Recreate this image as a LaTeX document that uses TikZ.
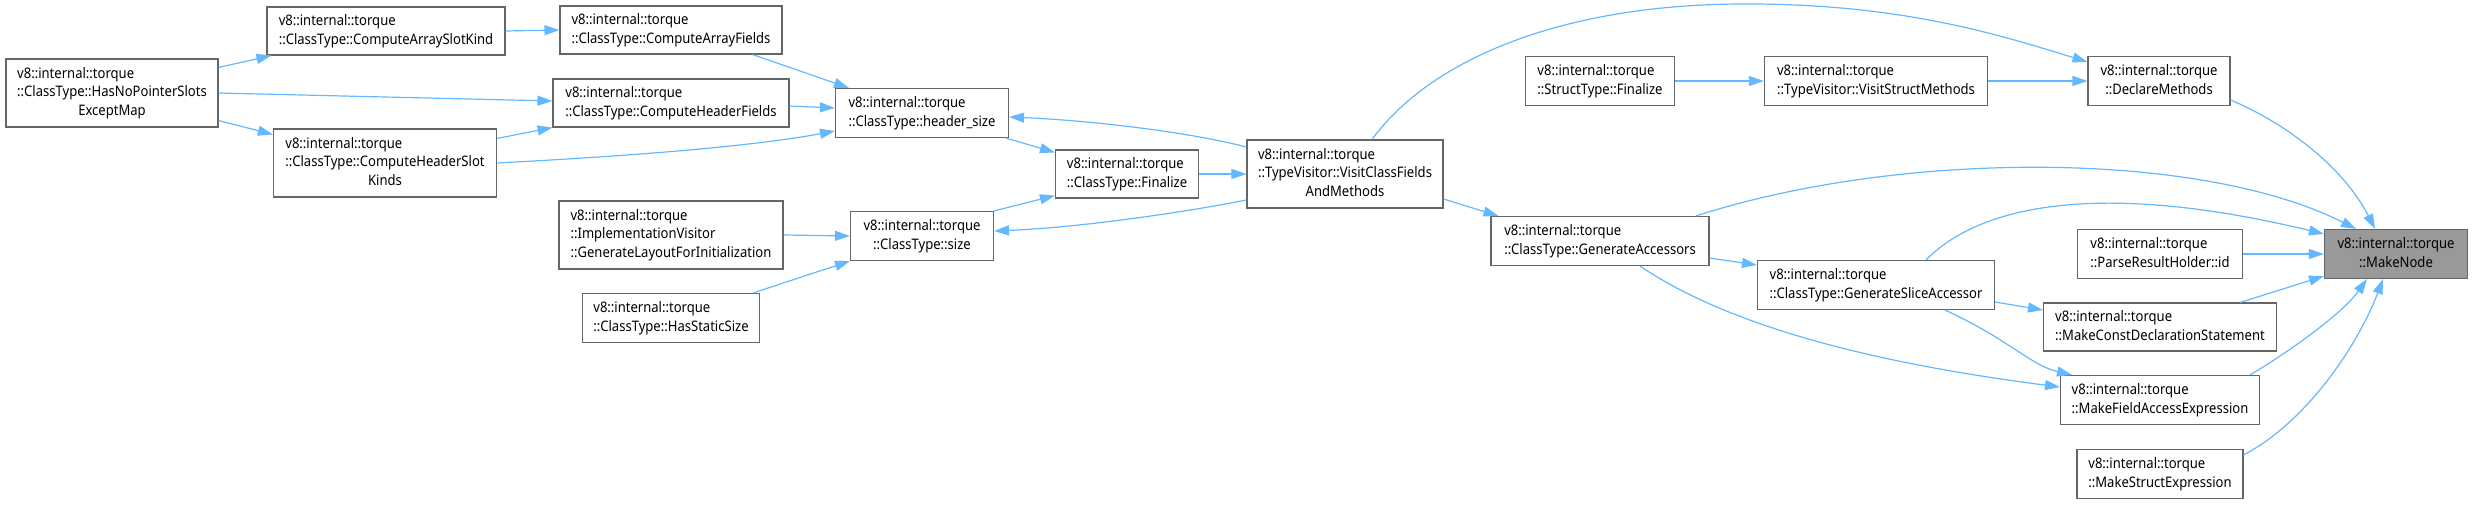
\documentclass[tikz,border=0pt]{standalone}
\usepackage{fontspec}
\setmainfont{Noto Sans}[FakeStretch=0.9]
\usetikzlibrary{arrows.meta}
\definecolor{edgeblue}{HTML}{63B8FF}
\definecolor{boxgray}{HTML}{666666}
\definecolor{fillgray}{HTML}{999999}
\newcommand\linestwo[2]{\begin{tabular}{@{}l@{}}#1\\\multicolumn{1}{@{}c@{}}{#2}\end{tabular}}
\newcommand\linesthree[3]{\begin{tabular}{@{}l@{}}#1\\#2\\\multicolumn{1}{@{}c@{}}{#3}\end{tabular}}
\begin{document}
\begin{tikzpicture}[x=1pt,y=-1pt,
  fn/.style={draw=boxgray, line width=1.1pt, fill=white, inner sep=0pt,
    font=\fontsize{14.5}{18.7}\selectfont, anchor=center},
  hl/.style={fn, fill=fillgray},
  edge/.style={draw=edgeblue, line width=1.2pt, -{Triangle[length=15pt,width=10pt]}}]
\useasboundingbox (0,0) rectangle (2472,504);
% nodes
\node[fn, minimum width=212pt, minimum height=68pt] (A) at (112,93) {\linesthree{v8::internal::torque}{::ClassType::HasNoPointerSlots}{ExceptMap}};
\node[fn, minimum width=238pt, minimum height=48pt] (B) at (386,31) {\linestwo{v8::internal::torque}{::ClassType::ComputeArraySlotKind}};
\node[fn, minimum width=223pt, minimum height=68pt] (C) at (385,163) {\linesthree{v8::internal::torque}{::ClassType::ComputeHeaderSlot}{Kinds}};
\node[fn, minimum width=222pt, minimum height=48pt] (D) at (671,30) {\linestwo{v8::internal::torque}{::ClassType::ComputeArrayFields}};
\node[fn, minimum width=236pt, minimum height=48pt] (E) at (671,103) {\linestwo{v8::internal::torque}{::ClassType::ComputeHeaderFields}};
\node[fn, minimum width=224pt, minimum height=68pt] (F) at (671,235) {\linesthree{v8::internal::torque}{::ImplementationVisitor}{::GenerateLayoutForInitialization}};
\node[fn, minimum width=177pt, minimum height=49pt] (G) at (671,318) {\linestwo{v8::internal::torque}{::ClassType::HasStaticSize}};
\node[fn, minimum width=173pt, minimum height=49pt] (H) at (922,113) {\linestwo{v8::internal::torque}{::ClassType::header\_size}};
\node[fn, minimum width=143pt, minimum height=49pt] (I) at (922,236) {\linestwo{v8::internal::torque}{::ClassType::size}};
\node[fn, minimum width=143pt, minimum height=48pt] (J) at (1127,174) {\linestwo{v8::internal::torque}{::ClassType::Finalize}};
\node[fn, minimum width=196pt, minimum height=68pt] (K) at (1345,174) {\linesthree{v8::internal::torque}{::TypeVisitor::VisitClassFields}{AndMethods}};
\node[fn, minimum width=149pt, minimum height=49pt] (L) at (1600,81) {\linestwo{v8::internal::torque}{::StructType::Finalize}};
\node[fn, minimum width=223pt, minimum height=49pt] (M) at (1876,81) {\linestwo{v8::internal::torque}{::TypeVisitor::VisitStructMethods}};
\node[fn, minimum width=142pt, minimum height=49pt] (N) at (2159,81) {\linestwo{v8::internal::torque}{::DeclareMethods}};
\node[hl, minimum width=143pt, minimum height=49pt] (O) at (2396,254) {\linestwo{v8::internal::torque}{::MakeNode}};
\node[fn, minimum width=165pt, minimum height=49pt] (P) at (2160,254) {\linestwo{v8::internal::torque}{::ParseResultHolder::id}};
\node[fn, minimum width=218pt, minimum height=49pt] (Q) at (1600,241) {\linestwo{v8::internal::torque}{::ClassType::GenerateAccessors}};
\node[fn, minimum width=237pt, minimum height=49pt] (R) at (1876,285) {\linestwo{v8::internal::torque}{::ClassType::GenerateSliceAccessor}};
\node[fn, minimum width=233pt, minimum height=48pt] (S) at (2160,327) {\linestwo{v8::internal::torque}{::MakeConstDeclarationStatement}};
\node[fn, minimum width=199pt, minimum height=49pt] (T) at (2160,400) {\linestwo{v8::internal::torque}{::MakeFieldAccessExpression}};
\node[fn, minimum width=166pt, minimum height=49pt] (U) at (2160,474) {\linestwo{v8::internal::torque}{::MakeStructExpression}};
% edges
\draw[edge] ([yshift=-9pt]A.north east) -- ([xshift=5pt]B.south west);
\draw[edge] (A.east) -- ([yshift=2pt]E.west);
\draw[edge] ([yshift=7pt]A.south east) -- ([yshift=-6pt]C.north west);
\draw[edge] (B.east) -- (D.west);
\draw[edge] ([yshift=-10pt]C.north east) -- (E.south west);
\draw[edge] (C.east) .. controls (650,155) and (760,145) .. ([yshift=-18pt]H.west);
\draw[edge] ([xshift=-30pt]D.south east) -- ([xshift=14pt]H.north west);
\draw[edge] ([yshift=-3pt]E.east) -- ([yshift=5pt]H.west);
\draw[edge] (F.east) -- (I.west);
\draw[edge] ([xshift=-7pt]G.north east) -- (I.south west);
\draw[edge] ([xshift=-3pt]H.south east) -- ([yshift=-3pt]J.north west);
\draw[edge] (I.north east) -- ([yshift=3pt]J.south west);
\draw[edge] (J.east) -- (K.west);
\draw[edge] ([yshift=27pt]K.west) .. controls (1180,130) and (1080,120) .. ([yshift=-4pt]H.east);
\draw[edge] ([yshift=-26pt]K.west) .. controls (1170,215) and (1070,228) .. ([yshift=5pt]I.east);
\draw[edge] ([yshift=-25pt]K.east) -- ([xshift=8pt]Q.north west);
\draw[edge] ([xshift=27pt]K.north) .. controls (1430,60) and (1560,5) .. (1740,4) .. controls (1900,3) and (2000,35) .. ([yshift=-6pt]N.north west);
\draw[edge] (L.east) -- (M.west);
\draw[edge] (M.east) -- (N.west);
\draw[edge] ([yshift=-19pt]N.east) .. controls (2290,125) and (2345,170) .. ([xshift=-21pt]O.north);
\draw[edge] ([xshift=96pt]Q.north) .. controls (1900,150) and (2200,150) .. ([xshift=-40pt]O.north);
\draw[edge] ([xshift=50pt]R.north) .. controls (1980,205) and (2100,180) .. ([yshift=-5pt]O.north west);
\draw[edge] (P.east) -- (O.west);
\draw[edge] ([xshift=80pt]S.north) -- ([yshift=3pt]O.south west);
\draw[edge] ([xshift=90pt]T.north) .. controls (2300,345) and (2345,310) .. ([xshift=-29pt]O.south);
\draw[edge] ([yshift=-6pt]U.north east) .. controls (2310,420) and (2360,340) .. ([xshift=-13pt]O.south);
\draw[edge] ([yshift=-17pt]Q.east) -- ([yshift=20pt]R.west);
\draw[edge] ([xshift=40pt]Q.south) .. controls (1720,320) and (1850,360) .. ([yshift=13pt]T.west);
\draw[edge] ([yshift=-17pt]R.east) -- ([yshift=17pt]S.west);
\draw[edge] ([xshift=69pt]R.south) .. controls (2010,340) and (2030,365) .. ([xshift=12pt]T.north west);
\end{tikzpicture}
\end{document}
